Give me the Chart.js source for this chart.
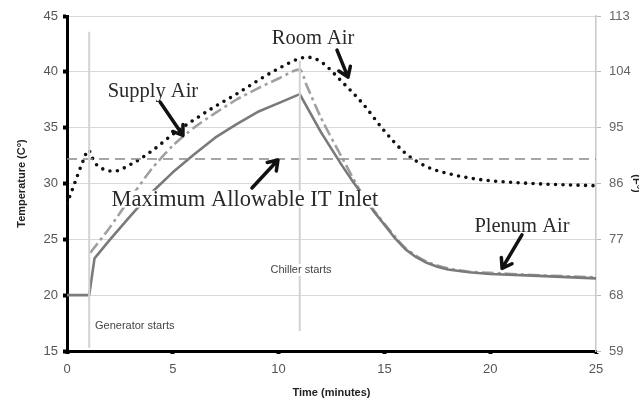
<!DOCTYPE html>
<html>
<head>
<meta charset="utf-8">
<script src="https://cdn.jsdelivr.net/npm/chart.js@4.4.1/dist/chart.umd.min.js"></script>
<style>
html, body { margin: 0; padding: 0; overflow: hidden; background: #fff; width: 639px; height: 407px; }
#c { display: block; }
</style>
</head>
<body>
<canvas id="c" width="646" height="407"></canvas>
<script>
// ---- data (minutes, °C) ----
const roomTime   = [0, 0.3, 0.55, 0.8, 1.0, 1.3, 1.7, 2.2, 3.0, 4.0, 5.0, 6.0, 7.0, 8.0, 9.0, 10.0, 11.0, 11.4, 12.0, 13.0, 14.0, 15.0, 16.0, 17.0, 18.0, 19.0, 20.0, 22.0, 25.0];
const roomAir    = [28.2, 29.7, 31.0, 32.2, 33.0, 31.9, 31.3, 31.1, 31.7, 32.9, 34.4, 35.7, 36.9, 38.0, 39.2, 40.3, 41.2, 41.3, 40.9, 39.1, 37.1, 34.7, 32.7, 31.5, 30.9, 30.5, 30.25, 30.0, 29.8];

const supplyTime = [1.1, 2.0, 3.0, 4.0, 5.0, 6.0, 7.0, 8.0, 9.0, 10.0, 11.0, 11.3, 12.0, 13.0, 14.0, 15.0, 16.0, 17.0, 18.0, 19.0, 20.0, 22.0, 25.0];
const supplyAir  = [23.8, 26.0, 28.7, 31.3, 33.4, 35.0, 36.3, 37.5, 38.5, 39.4, 40.2, 38.9, 35.9, 32.3, 28.9, 26.4, 24.2, 23.0, 22.4, 22.1, 22.0, 21.8, 21.6];

const plenumTime = [0, 1.05, 1.3, 2.0, 3.0, 4.0, 5.0, 6.0, 7.0, 8.0, 9.0, 10.0, 11.0, 11.5, 12.0, 12.5, 13.0, 13.5, 14.0, 14.5, 15.0, 15.5, 16.0, 16.5, 17.0, 17.5, 18.0, 19.0, 20.0, 22.0, 25.0];
const plenumAir  = [20.0, 20.0, 23.3, 24.9, 27.1, 29.2, 31.0, 32.6, 34.1, 35.3, 36.4, 37.2, 38.0, 36.3, 34.6, 33.1, 31.6, 30.2, 28.9, 27.5, 26.3, 25.1, 24.1, 23.4, 22.9, 22.55, 22.3, 22.05, 21.9, 21.75, 21.5];

const maxInletTime = [0, 25];
const maxInlet     = [32.2, 32.2];

const generatorStart = 1.05;   // minutes
const chillerStart   = 11.0;   // minutes

const xTicks  = [0, 5, 10, 15, 20, 25];
const cTicks  = [15, 20, 25, 30, 35, 40, 45];
const fTicks  = [59, 68, 77, 86, 95, 104, 113];

// ---- annotations (data coordinates) ----
const labels = [
  { text: 'Room Air', x: 11.63, y: 43.1, size: 20.5 },
  { text: 'Supply Air', x: 4.06, y: 38.3, size: 20.5 },
  { text: 'Maximum Allowable IT Inlet', x: 8.41, y: 28.6, size: 22.5 },
  { text: 'Plenum Air', x: 21.5, y: 26.2, size: 20.5 },
  { text: 'Generator starts', x: 3.2, y: 17.2, size: 0 },
  { text: 'Chiller starts', x: 11.06, y: 22.25, size: 0 }
];
const arrows = [
  { from: [12.76, 41.95], to: [13.28, 39.53] },
  { from: [4.40, 37.3], to: [5.48, 34.3] },
  { from: [8.74, 29.6], to: [9.97, 32.1] },
  { from: [21.5, 25.4], to: [20.56, 22.4] }
];

const pts = (xs, ys) => xs.map((x, i) => ({ x: x, y: ys[i] }));

const annotPlugin = {
  id: 'annot',
  afterDatasetsDraw(chart) {
    const ctx = chart.ctx;
    const xs = chart.scales.x, ys = chart.scales.y;
    ctx.save();
    labels.forEach(l => {
      const big = l.size > 0;
      const px = xs.getPixelForValue(l.x), py = ys.getPixelForValue(l.y);
      ctx.font = big ? l.size + 'px "Liberation Serif", "Times New Roman", serif' : '11px "Liberation Sans", Arial, sans-serif';
      const w = ctx.measureText(l.text).width;
      const h = big ? 17 : 12;
      ctx.fillStyle = '#fff';
      ctx.fillRect(px - w / 2 - 1, py - h / 2, w + 2, h);
      ctx.fillStyle = big ? '#2a2a2a' : '#444';
      ctx.textAlign = 'center';
      ctx.textBaseline = 'middle';
      ctx.fillText(l.text, px, py + (big ? 1 : 0));
    });
    ctx.strokeStyle = '#111';
    ctx.lineWidth = 3.5;
    ctx.lineCap = 'round';
    ctx.lineJoin = 'round';
    arrows.forEach(a => {
      const x0 = xs.getPixelForValue(a.from[0]), y0 = ys.getPixelForValue(a.from[1]);
      const x1 = xs.getPixelForValue(a.to[0]), y1 = ys.getPixelForValue(a.to[1]);
      const ang = Math.atan2(y1 - y0, x1 - x0);
      const hl = 11;
      ctx.beginPath();
      ctx.moveTo(x0, y0); ctx.lineTo(x1, y1);
      ctx.moveTo(x1 - hl * Math.cos(ang - 0.6), y1 - hl * Math.sin(ang - 0.6));
      ctx.lineTo(x1, y1);
      ctx.lineTo(x1 - hl * Math.cos(ang + 0.6), y1 - hl * Math.sin(ang + 0.6));
      ctx.stroke();
    });
    ctx.restore();
  }
};

const tickFont = { family: '"Liberation Sans", Arial, sans-serif', size: 13 };
const titleFont = { family: '"Liberation Sans", Arial, sans-serif', size: 11, weight: 'bold' };

new Chart(document.getElementById('c'), {
  type: 'line',
  data: {
    datasets: [
      { label: 'Generator starts', data: [{ x: generatorStart, y: 43.6 }, { x: generatorStart, y: 15.3 }], borderColor: '#d2d2d2', borderWidth: 2, pointRadius: 0, tension: 0 },
      { label: 'Chiller starts', data: [{ x: chillerStart, y: 41.0 }, { x: chillerStart, y: 16.8 }], borderColor: '#d2d2d2', borderWidth: 2, pointRadius: 0, tension: 0 },
      { label: 'Maximum Allowable IT Inlet', data: pts(maxInletTime, maxInlet), borderColor: '#8a8a8a', borderWidth: 1.6, borderDash: [10, 6], pointRadius: 0, tension: 0 },
      { label: 'Plenum Air', data: pts(plenumTime, plenumAir), borderColor: '#7a7a7a', borderWidth: 2.6, pointRadius: 0, tension: 0, borderJoinStyle: 'round' },
      { label: 'Supply Air', data: pts(supplyTime, supplyAir), borderColor: '#a0a0a0', borderWidth: 2.6, borderDash: [12, 4, 3, 4], pointRadius: 0, tension: 0.25 },
      { label: 'Room Air', data: pts(roomTime, roomAir), borderColor: '#111', borderWidth: 3.6, borderDash: [0, 7.5], borderCapStyle: 'round', pointRadius: 0, cubicInterpolationMode: 'monotone' }
    ]
  },
  options: {
    responsive: false,
    animation: false,
    devicePixelRatio: 1,
    layout: { padding: { top: 16, left: 0, right: 0, bottom: 0 } },
    plugins: { legend: { display: false }, tooltip: { enabled: false } },
    scales: {
      x: {
        type: 'linear', min: 0, max: 25,
        afterBuildTicks: s => { s.ticks = xTicks.map(v => ({ value: v })); },
        afterFit: s => { s.height = 56; },
        ticks: { color: '#555', font: tickFont, padding: 8 },
        grid: { drawOnChartArea: false, drawTicks: true, tickLength: 3, tickColor: '#000', tickWidth: 4 },
        border: { color: '#000', width: 3 },
        title: { display: true, text: 'Time (minutes)', color: '#222', font: titleFont, padding: { top: 0, bottom: 7 } }
      },
      y: {
        position: 'left', min: 15, max: 45,
        afterBuildTicks: s => { s.ticks = cTicks.map(v => ({ value: v })); },
        afterFit: s => { s.width = 67; },
        ticks: { color: '#555', font: tickFont, padding: 5 },
        grid: { color: '#d8d8d8', lineWidth: 1, drawTicks: true, tickLength: 4, tickColor: '#000', tickWidth: 4 },
        border: { color: '#000', width: 3 },
        title: { display: true, text: 'Temperature (C°)', color: '#222', font: titleFont, padding: { top: 15, bottom: 0 } }
      },
      y2: {
        position: 'right', min: 59, max: 113,
        afterBuildTicks: s => { s.ticks = fTicks.map(v => ({ value: v })); },
        afterFit: s => { s.width = 50; },
        ticks: { color: '#666', font: tickFont, padding: 8 },
        grid: { drawOnChartArea: false, drawTicks: true, tickLength: 5, tickColor: '#bbb', tickWidth: 1 },
        border: { color: '#c8c8c8', width: 1.5 },
        title: { display: true, text: '(F°)', color: '#222', font: titleFont, padding: { top: 3, bottom: 0 } }
      }
    }
  },
  plugins: [annotPlugin]
});
</script>
</body>
</html>
